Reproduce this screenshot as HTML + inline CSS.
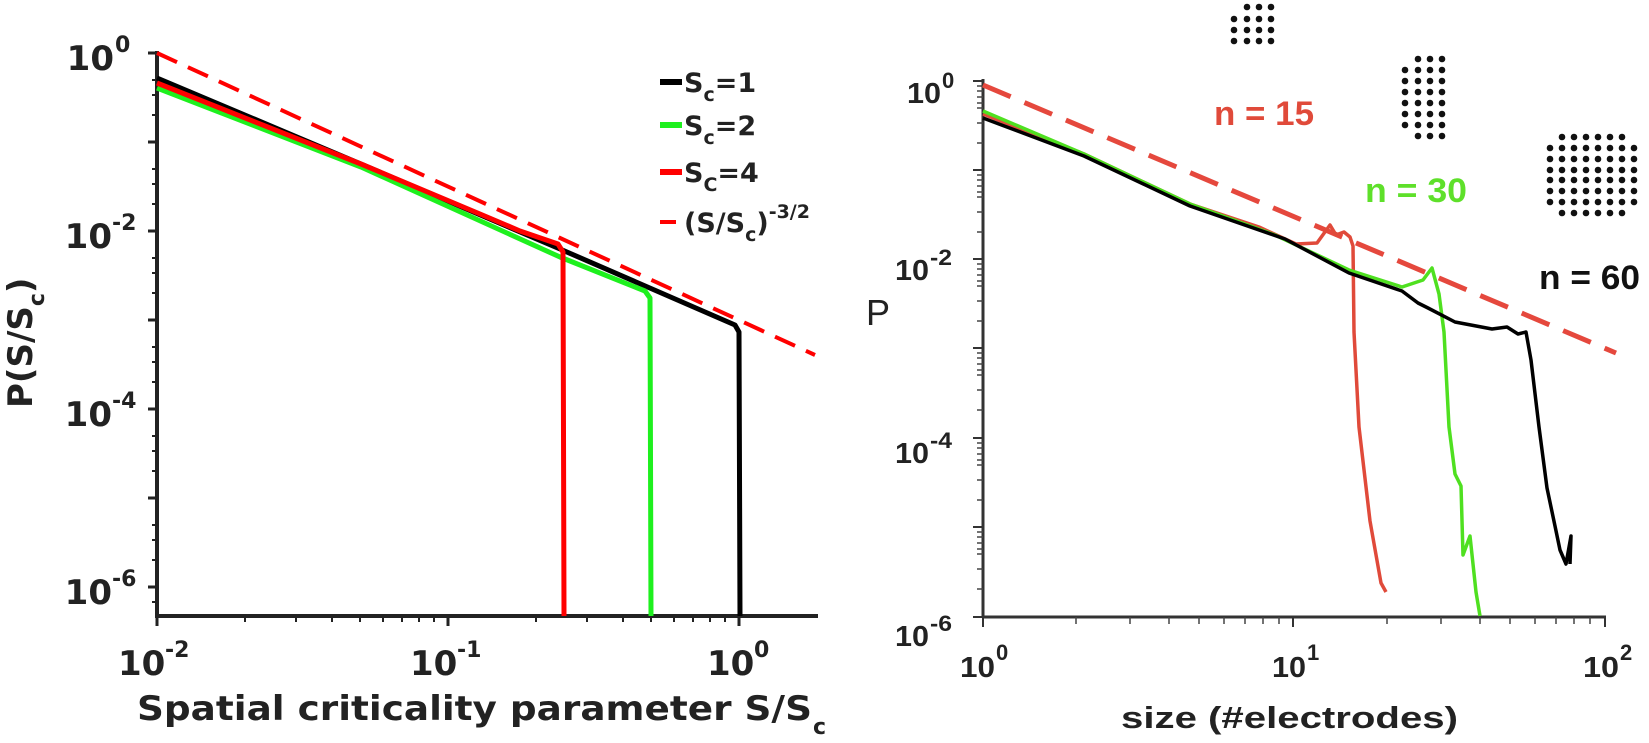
<!DOCTYPE html>
<html><head><meta charset="utf-8"><style>
html,body{margin:0;padding:0;background:#fff;}
svg{display:block;}
.b{font-family:"DejaVu Sans",sans-serif;font-weight:bold;fill:#222;}
.r{font-family:"Liberation Sans",sans-serif;fill:#222;font-weight:bold;}
</style></head><body>
<svg width="1649" height="743" viewBox="0 0 1649 743" xmlns="http://www.w3.org/2000/svg">
<rect width="1649" height="743" fill="#fff"/>
<!-- LEFT PLOT -->
<g stroke="#222" stroke-width="4" fill="none">
<line x1="157" y1="51" x2="157" y2="618"/>
<line x1="155" y1="616" x2="818" y2="616"/>
</g>
<g stroke="#222" stroke-width="3">
<line x1="148" y1="53" x2="157" y2="53"/><line x1="148" y1="142" x2="157" y2="142"/><line x1="148" y1="231" x2="157" y2="231"/><line x1="148" y1="320" x2="157" y2="320"/><line x1="148" y1="409" x2="157" y2="409"/><line x1="148" y1="498" x2="157" y2="498"/><line x1="148" y1="587" x2="157" y2="587"/>
<line x1="157" y1="616" x2="157" y2="626"/><line x1="448" y1="616" x2="448" y2="626"/><line x1="739" y1="616" x2="739" y2="626"/>
</g>
<g stroke="#222" stroke-width="2">
<line x1="152" y1="80" x2="157" y2="80"/><line x1="152" y1="95" x2="157" y2="95"/><line x1="152" y1="115" x2="157" y2="115"/>
<line x1="152" y1="169" x2="157" y2="169"/><line x1="152" y1="184" x2="157" y2="184"/><line x1="152" y1="204" x2="157" y2="204"/>
<line x1="152" y1="258" x2="157" y2="258"/><line x1="152" y1="273" x2="157" y2="273"/><line x1="152" y1="293" x2="157" y2="293"/>
<line x1="152" y1="347" x2="157" y2="347"/><line x1="152" y1="362" x2="157" y2="362"/><line x1="152" y1="382" x2="157" y2="382"/>
<line x1="152" y1="436" x2="157" y2="436"/><line x1="152" y1="451" x2="157" y2="451"/><line x1="152" y1="471" x2="157" y2="471"/>
<line x1="152" y1="525" x2="157" y2="525"/><line x1="152" y1="540" x2="157" y2="540"/><line x1="152" y1="560" x2="157" y2="560"/>
<line x1="152" y1="602" x2="157" y2="602"/>
<line x1="245" y1="616" x2="245" y2="622"/><line x1="296" y1="616" x2="296" y2="622"/><line x1="332" y1="616" x2="332" y2="622"/><line x1="360" y1="616" x2="360" y2="622"/><line x1="383" y1="616" x2="383" y2="622"/><line x1="402" y1="616" x2="402" y2="622"/><line x1="419" y1="616" x2="419" y2="622"/><line x1="434" y1="616" x2="434" y2="622"/>
<line x1="536" y1="616" x2="536" y2="622"/><line x1="587" y1="616" x2="587" y2="622"/><line x1="623" y1="616" x2="623" y2="622"/><line x1="651" y1="616" x2="651" y2="622"/><line x1="674" y1="616" x2="674" y2="622"/><line x1="693" y1="616" x2="693" y2="622"/><line x1="710" y1="616" x2="710" y2="622"/><line x1="725" y1="616" x2="725" y2="622"/>
</g>
<line x1="157" y1="53" x2="815" y2="355" stroke="#f00" stroke-width="4" stroke-dasharray="22,12"/>
<g fill="none" stroke-width="5" stroke-linejoin="round">
<polyline stroke="#000" points="157,78 361,164 560,249 735,325 739,332 740,616"/>
<polyline stroke="#1ef01e" points="157,88 361,167 560,257 645,291 650,298 651,616"/>
<polyline stroke="#f00" points="157,83 361,164 480,214 520,231 558,244 563,252 564,616"/>
</g>
<g class="b" font-size="34">
<text x="114" y="70" text-anchor="end">10</text><text x="115" y="52" font-size="22">0</text>
<text x="112" y="248" text-anchor="end">10</text><text x="112" y="230" font-size="22">-2</text>
<text x="112" y="426" text-anchor="end">10</text><text x="112" y="408" font-size="22">-4</text>
<text x="112" y="604" text-anchor="end">10</text><text x="112" y="586" font-size="22">-6</text>
<text x="118" y="675">10</text><text x="165" y="657" font-size="22">-2</text>
<text x="410" y="675">10</text><text x="457" y="657" font-size="22">-1</text>
<text x="707" y="675">10</text><text x="754" y="657" font-size="22">0</text>
<text x="137" y="720" textLength="675" lengthAdjust="spacingAndGlyphs">Spatial criticality parameter S/S</text>
<text x="813" y="734" font-size="22">c</text>
<text transform="translate(32,408) rotate(-90)">P(S/S<tspan font-size="22" dy="12">c</tspan><tspan dy="-12">)</tspan></text>
</g>
<g stroke-width="6">
<line x1="660" y1="82" x2="682" y2="82" stroke="#000"/>
<line x1="660" y1="125" x2="682" y2="125" stroke="#1ef01e"/>
<line x1="660" y1="172" x2="682" y2="172" stroke="#f00"/>
<line x1="660" y1="222" x2="676" y2="222" stroke="#f00" stroke-width="4"/>
</g>
<g class="b" font-size="27" fill="#111">
<text x="684" y="92">S<tspan font-size="19" dy="9">c</tspan><tspan dy="-9">=1</tspan></text>
<text x="684" y="135">S<tspan font-size="19" dy="9">c</tspan><tspan dy="-9">=2</tspan></text>
<text x="684" y="182">S<tspan font-size="19" dy="9">C</tspan><tspan dy="-9">=4</tspan></text>
<text x="684" y="232">(S/S<tspan font-size="19" dy="9">c</tspan><tspan dy="-9">)</tspan><tspan font-size="19" dy="-14">-3/2</tspan></text>
</g>
<!-- RIGHT PLOT -->
<g stroke="#333" stroke-width="3" fill="none">
<line x1="983" y1="79" x2="983" y2="618"/>
<line x1="982" y1="617" x2="1606" y2="617"/>
</g>
<g stroke="#333" stroke-width="2">
<line x1="973" y1="81" x2="983" y2="81"/><line x1="973" y1="170" x2="983" y2="170"/><line x1="973" y1="259" x2="983" y2="259"/><line x1="973" y1="348" x2="983" y2="348"/><line x1="973" y1="438" x2="983" y2="438"/><line x1="973" y1="527" x2="983" y2="527"/><line x1="973" y1="617" x2="983" y2="617"/>
<line x1="983" y1="617" x2="983" y2="627"/><line x1="1293" y1="617" x2="1293" y2="627"/><line x1="1605" y1="617" x2="1605" y2="627"/>
</g>
<g stroke="#444" stroke-width="1.5">
<line x1="1076" y1="617" x2="1076" y2="624"/><line x1="1130" y1="617" x2="1130" y2="624"/><line x1="1169" y1="617" x2="1169" y2="624"/><line x1="1199" y1="617" x2="1199" y2="624"/><line x1="1224" y1="617" x2="1224" y2="624"/><line x1="1245" y1="617" x2="1245" y2="624"/><line x1="1263" y1="617" x2="1263" y2="624"/><line x1="1279" y1="617" x2="1279" y2="624"/>
<line x1="1387" y1="617" x2="1387" y2="624"/><line x1="1441" y1="617" x2="1441" y2="624"/><line x1="1480" y1="617" x2="1480" y2="624"/><line x1="1510" y1="617" x2="1510" y2="624"/><line x1="1535" y1="617" x2="1535" y2="624"/><line x1="1556" y1="617" x2="1556" y2="624"/><line x1="1574" y1="617" x2="1574" y2="624"/><line x1="1590" y1="617" x2="1590" y2="624"/>
<line x1="977" y1="86" x2="983" y2="86"/><line x1="977" y1="91" x2="983" y2="91"/><line x1="977" y1="97" x2="983" y2="97"/><line x1="977" y1="103" x2="983" y2="103"/><line x1="977" y1="108" x2="983" y2="108"/><line x1="977" y1="123" x2="983" y2="123"/><line x1="977" y1="143" x2="983" y2="143"/>
<line x1="977" y1="175" x2="983" y2="175"/><line x1="977" y1="180" x2="983" y2="180"/><line x1="977" y1="186" x2="983" y2="186"/><line x1="977" y1="192" x2="983" y2="192"/><line x1="977" y1="197" x2="983" y2="197"/><line x1="977" y1="212" x2="983" y2="212"/><line x1="977" y1="232" x2="983" y2="232"/>
<line x1="977" y1="264" x2="983" y2="264"/><line x1="977" y1="269" x2="983" y2="269"/><line x1="977" y1="275" x2="983" y2="275"/><line x1="977" y1="281" x2="983" y2="281"/><line x1="977" y1="286" x2="983" y2="286"/><line x1="977" y1="301" x2="983" y2="301"/><line x1="977" y1="321" x2="983" y2="321"/>
<line x1="977" y1="353" x2="983" y2="353"/><line x1="977" y1="358" x2="983" y2="358"/><line x1="977" y1="364" x2="983" y2="364"/><line x1="977" y1="370" x2="983" y2="370"/><line x1="977" y1="375" x2="983" y2="375"/><line x1="977" y1="390" x2="983" y2="390"/><line x1="977" y1="410" x2="983" y2="410"/>
<line x1="977" y1="443" x2="983" y2="443"/><line x1="977" y1="448" x2="983" y2="448"/><line x1="977" y1="454" x2="983" y2="454"/><line x1="977" y1="460" x2="983" y2="460"/><line x1="977" y1="465" x2="983" y2="465"/><line x1="977" y1="480" x2="983" y2="480"/><line x1="977" y1="500" x2="983" y2="500"/>
<line x1="977" y1="532" x2="983" y2="532"/><line x1="977" y1="537" x2="983" y2="537"/><line x1="977" y1="543" x2="983" y2="543"/><line x1="977" y1="549" x2="983" y2="549"/><line x1="977" y1="554" x2="983" y2="554"/><line x1="977" y1="569" x2="983" y2="569"/><line x1="977" y1="589" x2="983" y2="589"/>
</g>
<line x1="983" y1="85" x2="1616" y2="353" stroke="#e5483d" stroke-width="5" stroke-dasharray="30,15"/>
<g fill="none" stroke-width="3.5" stroke-linejoin="round">
<polyline stroke="#e04a3a" points="983,114 1084,154 1190,204 1259,227 1296,244 1317,243 1330,225 1336,235 1344,232 1350,237 1353,246 1354,332 1359,427 1370,521 1381,583 1386,592"/>
<polyline stroke="#4fe020" points="983,111 1084,154 1190,204 1275,235 1349,270 1402,287 1423,280 1432,268 1439,294 1444,332 1449,427 1455,474 1461,486 1463,555 1470,536 1476,592 1480,616"/>
<polyline stroke="#000" points="983,118 1084,156 1190,206 1285,239 1349,273 1402,291 1418,303 1428,308 1455,322 1492,329 1507,327 1518,334 1526,332 1531,360 1539,427 1547,488 1555,526 1560,550 1566,564 1571,536 1570,564"/>
</g>
<g class="r" font-size="29">
<text x="907" y="103" textLength="34" lengthAdjust="spacingAndGlyphs">10</text><text x="942" y="88" font-size="22">0</text>
<text x="895" y="280" textLength="34" lengthAdjust="spacingAndGlyphs">10</text><text x="930" y="265" font-size="22" textLength="22" lengthAdjust="spacingAndGlyphs">-2</text>
<text x="895" y="463" textLength="34" lengthAdjust="spacingAndGlyphs">10</text><text x="930" y="448" font-size="22" textLength="22" lengthAdjust="spacingAndGlyphs">-4</text>
<text x="895" y="646" textLength="34" lengthAdjust="spacingAndGlyphs">10</text><text x="930" y="631" font-size="22" textLength="22" lengthAdjust="spacingAndGlyphs">-6</text>
<text x="960" y="677" textLength="35" lengthAdjust="spacingAndGlyphs">10</text><text x="996" y="660" font-size="22">0</text>
<text x="1272" y="677" textLength="34" lengthAdjust="spacingAndGlyphs">10</text><text x="1307" y="660" font-size="22">1</text>
<text x="1583" y="677" textLength="36" lengthAdjust="spacingAndGlyphs">10</text><text x="1620" y="660" font-size="22">2</text>
<text x="1121" y="728" font-size="31" textLength="337" lengthAdjust="spacingAndGlyphs">size (#electrodes)</text>
<text x="866" y="325" font-size="36" font-weight="normal">P</text>
<text x="1214" y="125" font-size="34" fill="#e04a3a" textLength="100" lengthAdjust="spacingAndGlyphs">n = 15</text>
<text x="1365" y="202" font-size="34" fill="#5ee02a" textLength="102" lengthAdjust="spacingAndGlyphs">n = 30</text>
<text x="1539" y="289" font-size="34" fill="#111" textLength="101" lengthAdjust="spacingAndGlyphs">n = 60</text>
</g>
<g fill="#111">
<circle cx="1247" cy="7" r="3.3"/><circle cx="1259" cy="7" r="3.3"/><circle cx="1271" cy="7" r="3.3"/>
<circle cx="1234" cy="19" r="3.3"/><circle cx="1247" cy="19" r="3.3"/><circle cx="1259" cy="19" r="3.3"/><circle cx="1271" cy="19" r="3.3"/>
<circle cx="1234" cy="30" r="3.3"/><circle cx="1247" cy="30" r="3.3"/><circle cx="1259" cy="30" r="3.3"/><circle cx="1271" cy="30" r="3.3"/>
<circle cx="1234" cy="41" r="3.3"/><circle cx="1247" cy="41" r="3.3"/><circle cx="1259" cy="41" r="3.3"/><circle cx="1271" cy="41" r="3.3"/>
<circle cx="1418" cy="59" r="3.3"/><circle cx="1430" cy="59" r="3.3"/><circle cx="1442" cy="59" r="3.3"/>
<circle cx="1405" cy="70" r="3.3"/><circle cx="1418" cy="70" r="3.3"/><circle cx="1430" cy="70" r="3.3"/><circle cx="1442" cy="70" r="3.3"/>
<circle cx="1405" cy="81" r="3.3"/><circle cx="1418" cy="81" r="3.3"/><circle cx="1430" cy="81" r="3.3"/><circle cx="1442" cy="81" r="3.3"/>
<circle cx="1405" cy="92" r="3.3"/><circle cx="1418" cy="92" r="3.3"/><circle cx="1430" cy="92" r="3.3"/><circle cx="1442" cy="92" r="3.3"/>
<circle cx="1405" cy="103" r="3.3"/><circle cx="1418" cy="103" r="3.3"/><circle cx="1430" cy="103" r="3.3"/><circle cx="1442" cy="103" r="3.3"/>
<circle cx="1405" cy="114" r="3.3"/><circle cx="1418" cy="114" r="3.3"/><circle cx="1430" cy="114" r="3.3"/><circle cx="1442" cy="114" r="3.3"/>
<circle cx="1405" cy="125" r="3.3"/><circle cx="1418" cy="125" r="3.3"/><circle cx="1430" cy="125" r="3.3"/><circle cx="1442" cy="125" r="3.3"/>
<circle cx="1418" cy="136" r="3.3"/><circle cx="1430" cy="136" r="3.3"/><circle cx="1442" cy="136" r="3.3"/>
</g>
<g fill="#111">
<circle cx="1562" cy="137" r="3.3"/><circle cx="1574" cy="137" r="3.3"/><circle cx="1586" cy="137" r="3.3"/><circle cx="1598" cy="137" r="3.3"/><circle cx="1610" cy="137" r="3.3"/><circle cx="1622" cy="137" r="3.3"/>
<circle cx="1550" cy="148" r="3.3"/><circle cx="1562" cy="148" r="3.3"/><circle cx="1574" cy="148" r="3.3"/><circle cx="1586" cy="148" r="3.3"/><circle cx="1598" cy="148" r="3.3"/><circle cx="1610" cy="148" r="3.3"/><circle cx="1622" cy="148" r="3.3"/><circle cx="1634" cy="148" r="3.3"/>
<circle cx="1550" cy="159" r="3.3"/><circle cx="1562" cy="159" r="3.3"/><circle cx="1574" cy="159" r="3.3"/><circle cx="1586" cy="159" r="3.3"/><circle cx="1598" cy="159" r="3.3"/><circle cx="1610" cy="159" r="3.3"/><circle cx="1622" cy="159" r="3.3"/><circle cx="1634" cy="159" r="3.3"/>
<circle cx="1550" cy="170" r="3.3"/><circle cx="1562" cy="170" r="3.3"/><circle cx="1574" cy="170" r="3.3"/><circle cx="1586" cy="170" r="3.3"/><circle cx="1598" cy="170" r="3.3"/><circle cx="1610" cy="170" r="3.3"/><circle cx="1622" cy="170" r="3.3"/><circle cx="1634" cy="170" r="3.3"/>
<circle cx="1550" cy="180" r="3.3"/><circle cx="1562" cy="180" r="3.3"/><circle cx="1574" cy="180" r="3.3"/><circle cx="1586" cy="180" r="3.3"/><circle cx="1598" cy="180" r="3.3"/><circle cx="1610" cy="180" r="3.3"/><circle cx="1622" cy="180" r="3.3"/><circle cx="1634" cy="180" r="3.3"/>
<circle cx="1550" cy="191" r="3.3"/><circle cx="1562" cy="191" r="3.3"/><circle cx="1574" cy="191" r="3.3"/><circle cx="1586" cy="191" r="3.3"/><circle cx="1598" cy="191" r="3.3"/><circle cx="1610" cy="191" r="3.3"/><circle cx="1622" cy="191" r="3.3"/><circle cx="1634" cy="191" r="3.3"/>
<circle cx="1550" cy="202" r="3.3"/><circle cx="1562" cy="202" r="3.3"/><circle cx="1574" cy="202" r="3.3"/><circle cx="1586" cy="202" r="3.3"/><circle cx="1598" cy="202" r="3.3"/><circle cx="1610" cy="202" r="3.3"/><circle cx="1622" cy="202" r="3.3"/><circle cx="1634" cy="202" r="3.3"/>
<circle cx="1562" cy="213" r="3.3"/><circle cx="1574" cy="213" r="3.3"/><circle cx="1586" cy="213" r="3.3"/><circle cx="1598" cy="213" r="3.3"/><circle cx="1610" cy="213" r="3.3"/><circle cx="1622" cy="213" r="3.3"/>
</g>
</svg>
</body></html>
